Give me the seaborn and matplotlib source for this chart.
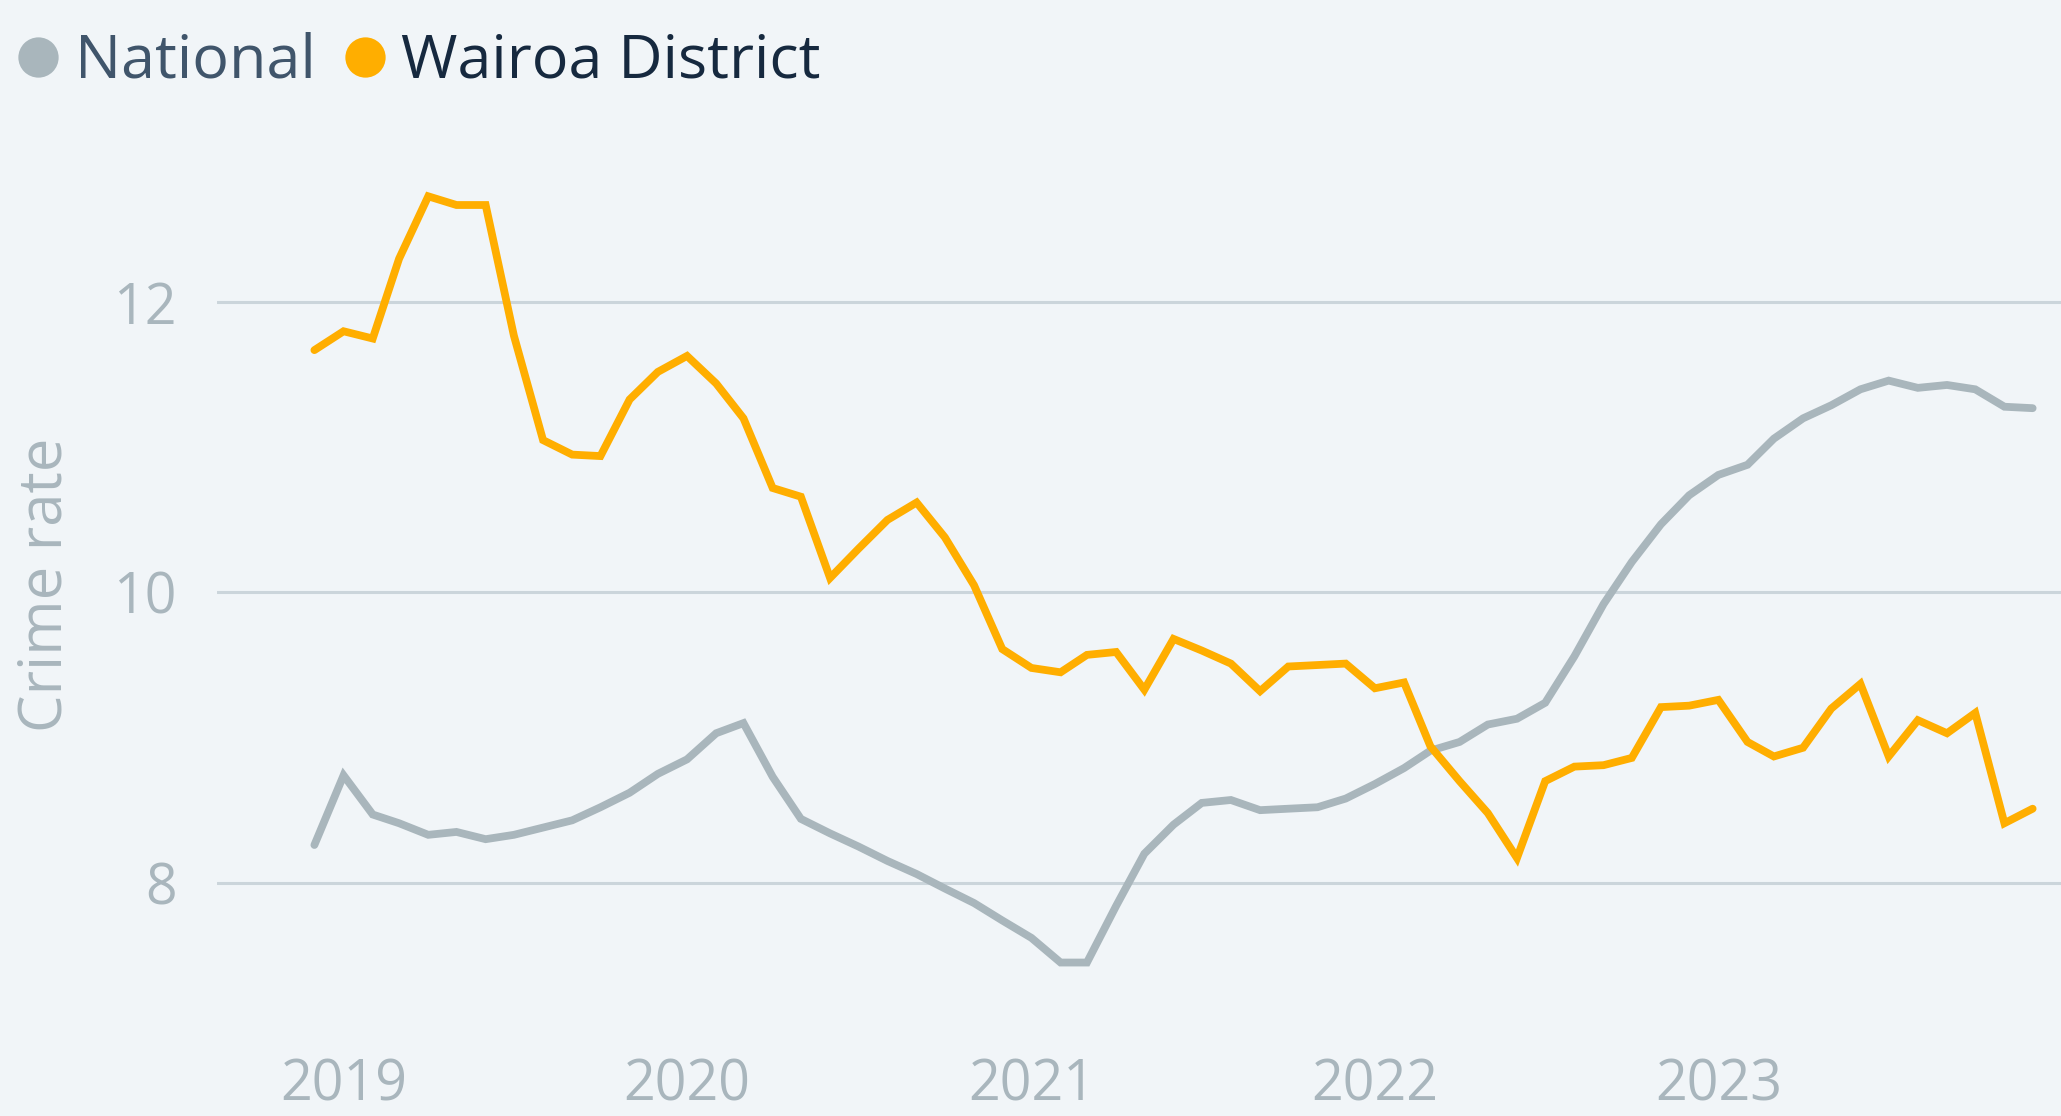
import numpy as np
import pandas as pd
import matplotlib
matplotlib.use('Agg')
import matplotlib.pyplot as plt
import matplotlib.dates as mdates
from matplotlib.lines import Line2D
import seaborn as sns

# monthly series, Dec 2018 - Dec 2023
months = pd.date_range('2018-12-01', '2023-12-01', freq='MS')

national = [8.26, 8.74, 8.47, 8.41, 8.33, 8.35, 8.30, 8.33, 8.38, 8.43,
            8.52, 8.62, 8.75, 8.85, 9.03, 9.10, 8.73, 8.44, 8.34, 8.25,
            8.15, 8.06, 7.96, 7.86, 7.74, 7.62, 7.45, 7.45, 7.84, 8.20,
            8.40, 8.55, 8.57, 8.50, 8.51, 8.52, 8.58, 8.68, 8.79, 8.91,
            8.97, 9.09, 9.13, 9.24, 9.56, 9.92, 10.21, 10.47, 10.67, 10.81,
            10.88, 11.06, 11.20, 11.29, 11.40, 11.46, 11.41, 11.43, 11.40, 11.28,
            11.27]

wairoa = [11.67, 11.80, 11.75, 12.30, 12.73, 12.67, 12.67, 11.77, 11.05, 10.95,
          10.94, 11.33, 11.52, 11.63, 11.44, 11.20, 10.72, 10.66, 10.10, 10.30,
          10.50, 10.62, 10.38, 10.05, 9.61, 9.48, 9.45, 9.57, 9.59, 9.33,
          9.68, 9.60, 9.51, 9.32, 9.49, 9.50, 9.51, 9.34, 9.38, 8.94,
          8.70, 8.48, 8.17, 8.70, 8.80, 8.81, 8.86, 9.21, 9.22, 9.26,
          8.97, 8.87, 8.93, 9.20, 9.37, 8.87, 9.12, 9.03, 9.17, 8.41,
          8.51]

areas = ['National', 'Wairoa District']
colors = {'National': '#a9b6bc', 'Wairoa District': '#ffae00'}
text_colors = {'National': '#40556b', 'Wairoa District': '#16293f'}
year_ticks = ['2019', '2020', '2021', '2022', '2023']
y_ticks = [8, 10, 12]

BG = '#f1f5f8'
GRID = '#cbd5db'
MUTED = '#a9b6bd'

df = pd.DataFrame({
    'month': list(months) * 2,
    'rate': national + wairoa,
    'area': ['National'] * len(national) + ['Wairoa District'] * len(wairoa),
})

sns.set_theme(style='white')
plt.rcParams['font.family'] = ['Open Sans', 'DejaVu Sans']

W, H = 2061, 1116
fig = plt.figure(figsize=(W / 100, H / 100), dpi=100, facecolor=BG)
ax = fig.add_axes([217 / W, 1 - 1038 / H, 1 - 217 / W, (1038 - 131) / H])
ax.set_facecolor(BG)

sns.lineplot(data=df, x='month', y='rate', hue='area', hue_order=areas,
             palette=colors, legend=False, ax=ax)
for line in ax.get_lines():
    line.set_linewidth(5.6)
    line.set_solid_capstyle('round')
    line.set_solid_joinstyle('miter')

# axis ranges
step = 30.44
x0 = mdates.date2num(months[0])
x1 = mdates.date2num(months[-1])
ax.set_xlim(x0 - 3.4 * step, x1 + 0.99 * step)
ax.set_ylim(6.93, 13.18)

ax.set_yticks(y_ticks)
ax.set_yticklabels([str(v) for v in y_ticks])
ax.set_xticks(pd.to_datetime([y + '-01-01' for y in year_ticks]))
ax.set_xticklabels(year_ticks)

ax.grid(axis='y', color=GRID, linewidth=2.2)
ax.grid(axis='x', visible=False)
ax.set_axisbelow(True)
for s in ax.spines.values():
    s.set_visible(False)

ax.tick_params(axis='both', length=0, labelsize=40, labelcolor=MUTED)
ax.tick_params(axis='y', pad=29)
ax.tick_params(axis='x', pad=14)

ax.set_xlabel('')
ax.set_ylabel('Crime rate', fontsize=43, color=MUTED)
ax.yaxis.set_label_coords((46 - 217) / (W - 217), 0.5)
ax.yaxis.label.set_va('center')

# legend with round markers
handles = [Line2D([], [], linestyle='none', marker='o', markersize=29,
                  markerfacecolor=colors[a], markeredgewidth=0) for a in areas]
leg = fig.legend(handles, areas, loc='center left',
                 bbox_to_anchor=(17 / W, 1 - 62 / H), ncol=2, frameon=False,
                 fontsize=44, borderpad=0, borderaxespad=0, handlelength=0.7,
                 handletextpad=0.25, columnspacing=0.45)
for t, a in zip(leg.get_texts(), areas):
    t.set_color(text_colors[a])

fig.savefig('out.png', dpi=100, facecolor=BG)
